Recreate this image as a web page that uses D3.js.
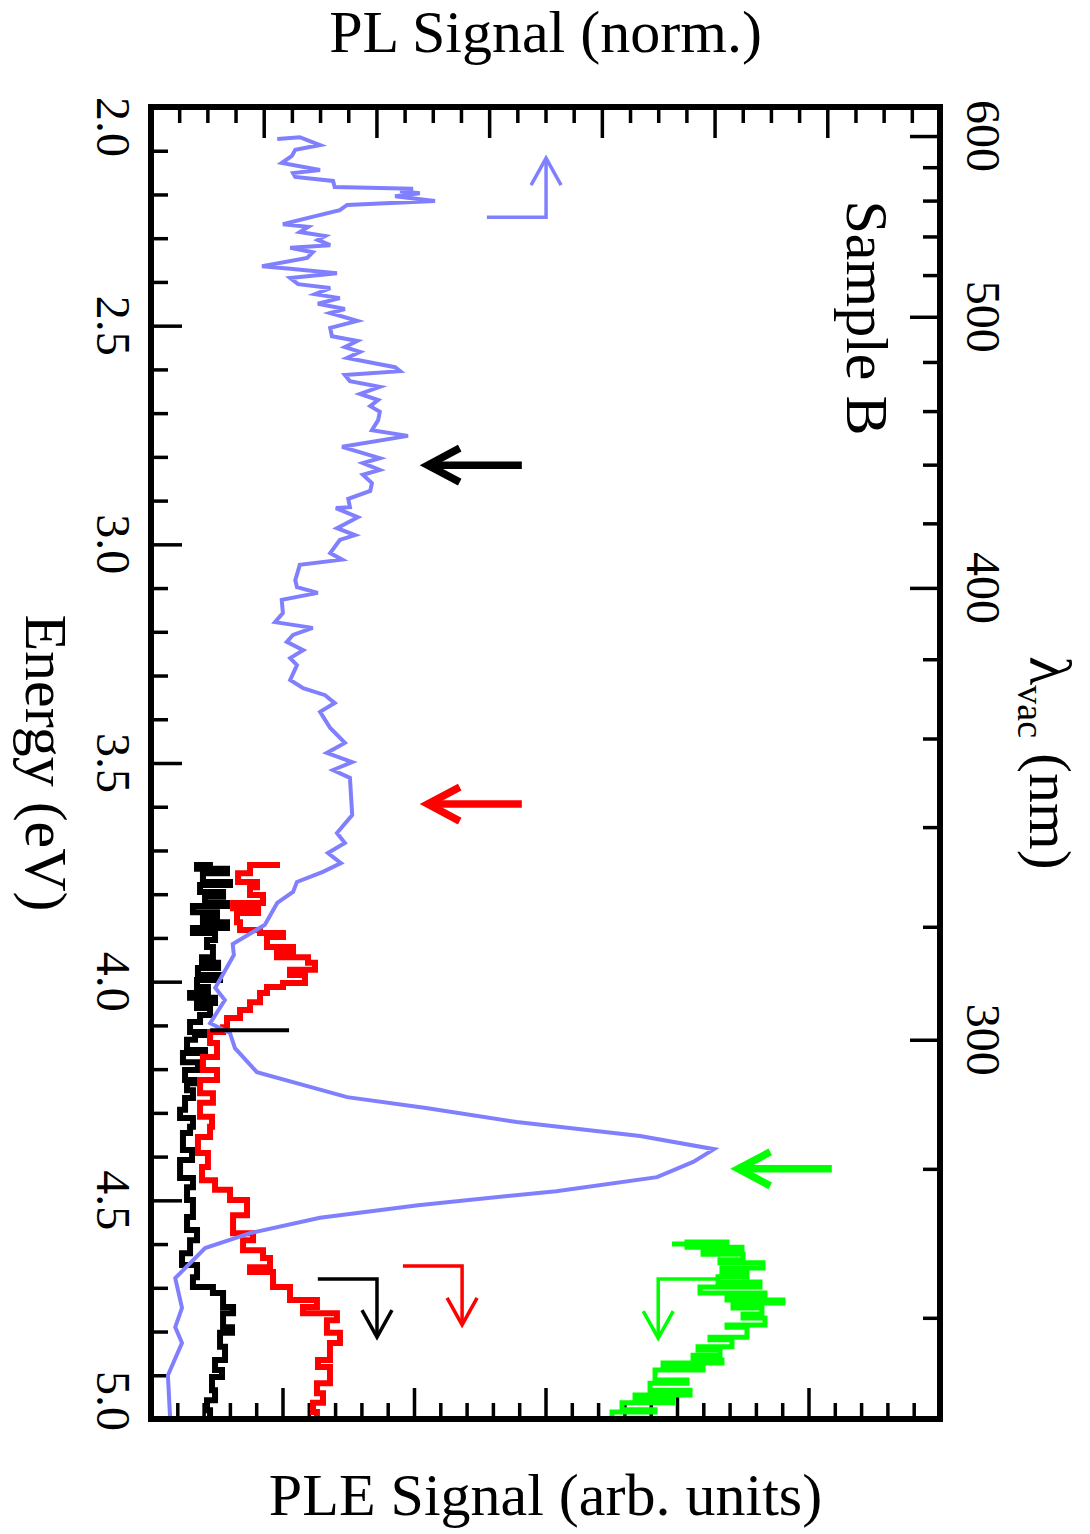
<!DOCTYPE html>
<html>

<head>
    <meta charset="utf-8">
    <script src="https://d3js.org/d3.v7.min.js"></script>
    <title>PL / PLE spectra - Sample B</title>
    <style>
        body {
            margin: 0;
            background: #fff;
        }

        text {
            font-family: 'Liberation Serif', 'Times New Roman', serif;
            fill: #000;
        }
    </style>
</head>

<body>
    <div id="chart"></div>

    <script>
        // PL spectrum (blue), energy in eV, signal normalised to the peak
        const plEnergy = [2.073, 2.069, 2.087, 2.098, 2.112, 2.128, 2.144, 2.151, 2.160, 2.169,
            2.183, 2.187, 2.192, 2.197, 2.204, 2.215, 2.224, 2.236, 2.254, 2.268,
            2.274, 2.286, 2.295, 2.304, 2.316, 2.322, 2.332, 2.345, 2.364, 2.370,
            2.380, 2.391, 2.405, 2.414, 2.428, 2.437, 2.450, 2.462, 2.471, 2.489,
            2.505, 2.524, 2.535, 2.549, 2.560, 2.574, 2.595, 2.604, 2.613, 2.627,
            2.640, 2.656, 2.670, 2.684, 2.697, 2.716, 2.739, 2.752, 2.777, 2.803,
            2.814, 2.830, 2.841, 2.860, 2.878, 2.896, 2.915, 2.917, 2.938, 2.963,
            2.979, 2.990, 3.020, 3.035, 3.047, 3.082, 3.098, 3.111, 3.127, 3.157,
            3.178, 3.191, 3.207, 3.223, 3.242, 3.260, 3.276, 3.310, 3.329, 3.345,
            3.363, 3.383, 3.420, 3.454, 3.477, 3.498, 3.516, 3.534, 3.619, 3.660,
            3.683, 3.706, 3.729, 3.749, 3.772, 3.795, 3.820, 3.870, 3.914, 3.939,
            3.996, 4.014, 4.042, 4.095, 4.117, 4.152, 4.207, 4.264, 4.289, 4.321,
            4.353, 4.383, 4.412, 4.447, 4.479, 4.511, 4.540, 4.575, 4.609, 4.678,
            4.746, 4.790, 4.826, 4.900, 5.000];
        const plSignal = [0.224, 0.264, 0.300, 0.256, 0.250, 0.232, 0.300, 0.252, 0.256, 0.323,
            0.326, 0.465, 0.442, 0.477, 0.433, 0.504, 0.348, 0.335, 0.277, 0.234,
            0.279, 0.264, 0.309, 0.296, 0.318, 0.247, 0.287, 0.277, 0.197, 0.247,
            0.330, 0.247, 0.261, 0.318, 0.291, 0.335, 0.296, 0.344, 0.318, 0.366,
            0.318, 0.321, 0.366, 0.344, 0.371, 0.348, 0.433, 0.442, 0.344, 0.353,
            0.406, 0.371, 0.403, 0.389, 0.406, 0.403, 0.392, 0.456, 0.339, 0.406,
            0.376, 0.406, 0.376, 0.392, 0.389, 0.350, 0.353, 0.328, 0.367, 0.330,
            0.362, 0.335, 0.318, 0.339, 0.264, 0.256, 0.259, 0.296, 0.232, 0.234,
            0.220, 0.287, 0.252, 0.241, 0.270, 0.247, 0.259, 0.247, 0.270, 0.309,
            0.326, 0.300, 0.318, 0.344, 0.312, 0.357, 0.323, 0.353, 0.357, 0.330,
            0.344, 0.314, 0.337, 0.305, 0.259, 0.252, 0.224, 0.202, 0.145, 0.147,
            0.122, 0.114, 0.131, 0.105, 0.140, 0.149, 0.188, 0.348, 0.488, 0.649,
            0.868, 0.999, 0.962, 0.898, 0.719, 0.474, 0.300, 0.176, 0.096, 0.043,
            0.055, 0.043, 0.055, 0.030, 0.034];

        // PLE spectra (arb. units) : red, black, green
        const redEnergy = [3.733, 3.752, 3.772, 3.784, 3.802, 3.820, 3.832, 3.843, 3.864, 3.882,
            3.889, 3.898, 3.921, 3.932, 3.944, 3.957, 3.973, 3.985, 4.003, 4.012,
            4.026, 4.047, 4.065, 4.083, 4.104, 4.115, 4.140, 4.172, 4.202, 4.225,
            4.255, 4.277, 4.309, 4.332, 4.355, 4.392, 4.424, 4.454, 4.476, 4.499,
            4.534, 4.575, 4.591, 4.614, 4.632, 4.653, 4.664, 4.698, 4.728, 4.744,
            4.758, 4.774, 4.803, 4.826, 4.865, 4.881, 4.918, 4.941, 4.963, 4.984, 5.000];
        const redSignal = [0.981, 0.753, 0.662, 0.806, 0.753, 0.852, 0.624, 0.814, 0.654, 0.677,
            0.829, 1.004, 0.882, 1.080, 0.958, 1.194, 1.247, 1.057, 1.171, 1.004,
            0.882, 0.829, 0.753, 0.677, 0.578, 0.548, 0.449, 0.502, 0.395, 0.502,
            0.373, 0.471, 0.373, 0.464, 0.449, 0.357, 0.433, 0.388, 0.487, 0.601,
            0.730, 0.624, 0.776, 0.700, 0.852, 0.905, 0.753, 0.928, 1.057, 1.262,
            1.156, 1.414, 1.338, 1.437, 1.361, 1.270, 1.361, 1.262, 1.308, 1.232, 1.262];

        const blackEnergy = [3.733, 3.742, 3.752, 3.772, 3.779, 3.795, 3.806, 3.820, 3.827, 3.841,
            3.852, 3.864, 3.877, 3.889, 3.905, 3.921, 3.944, 3.957, 3.969, 3.985,
            3.996, 4.012, 4.026, 4.037, 4.049, 4.060, 4.076, 4.092, 4.115, 4.122,
            4.133, 4.156, 4.163, 4.184, 4.202, 4.225, 4.232, 4.248, 4.266, 4.293,
            4.312, 4.332, 4.346, 4.385, 4.408, 4.449, 4.470, 4.499, 4.538, 4.568,
            4.591, 4.621, 4.648, 4.676, 4.698, 4.712, 4.744, 4.758, 4.790, 4.803,
            4.835, 4.865, 4.888, 4.904, 4.934, 4.957, 4.980, 5.000];
        const blackSignal = [0.471, 0.350, 0.578, 0.395, 0.601, 0.373, 0.548, 0.411, 0.578, 0.319,
            0.502, 0.395, 0.578, 0.319, 0.487, 0.426, 0.471, 0.388, 0.510, 0.357,
            0.525, 0.350, 0.433, 0.297, 0.487, 0.350, 0.449, 0.373, 0.297, 0.449,
            0.335, 0.274, 0.411, 0.243, 0.357, 0.259, 0.373, 0.274, 0.319, 0.259,
            0.221, 0.319, 0.297, 0.243, 0.312, 0.221, 0.319, 0.274, 0.319, 0.274,
            0.350, 0.297, 0.236, 0.350, 0.319, 0.471, 0.548, 0.624, 0.548, 0.616,
            0.525, 0.563, 0.487, 0.540, 0.464, 0.487, 0.426, 0.449];

        const greenEnergy = [4.600, 4.595, 4.607, 4.616, 4.623, 4.636, 4.643, 4.655, 4.664, 4.675,
            4.687, 4.698, 4.712, 4.721, 4.728, 4.735, 4.746, 4.760, 4.769, 4.785,
            4.790, 4.813, 4.819, 4.835, 4.842, 4.854, 4.865, 4.872, 4.881, 4.888,
            4.911, 4.918, 4.934, 4.945, 4.952, 4.963, 4.979, 4.984, 4.998, 5.000];
        const greenSignal = [3.962, 4.380, 4.076, 4.494, 4.198, 4.502, 4.327, 4.654, 4.342, 4.532,
            4.312, 4.631, 4.175, 4.669, 4.380, 4.806, 4.426, 4.646, 4.502, 4.669,
            4.380, 4.532, 4.251, 4.418, 4.160, 4.327, 4.122, 4.342, 3.894, 4.198,
            3.833, 4.076, 3.795, 4.099, 3.681, 3.970, 3.582, 3.833, 3.506, 3.741];

        // tick labels
        const energyTicks = [2.0, 2.5, 3.0, 3.5, 4.0, 4.5, 5.0];
        const wavelengthTicks = [600, 500, 400, 300];

        // arrows, in energy (eV) and PL units
        const straightArrows = [
            { color: "#000000", energy: 2.819, from: 0.658, to: 0.491 },
            { color: "#ff0000", energy: 3.594, from: 0.658, to: 0.491 },
            { color: "#00ff00", energy: 4.428, from: 1.208, to: 1.042 }
        ];
        const bentArrows = [
            { color: "#8080ff", energy: 2.252, from: 0.596, to: 0.701, tip: 2.117 },
            { color: "#000000", energy: 4.680, from: 0.296, to: 0.401, tip: 4.813 },
            { color: "#ff0000", energy: 4.650, from: 0.447, to: 0.552, tip: 4.785 },
            { color: "#00ff00", energy: 4.680, from: 1.004, to: 0.900, tip: 4.815 }
        ];
        const markerLine = { energy: 4.111, from: 0.105, to: 0.245 };

        const hc = 1239.84; // eV nm

        // plot frame (window.top is read-only, so keep these names local)
        const W = 1090, H = 1534,
            fx0 = 151, fx1 = 940, fy0 = 107, fy1 = 1419;

        const svg = d3.select("#chart").append("svg")
            .attr("width", W)
            .attr("height", H);

        // energy runs down the page, signals run to the right
        const y = d3.scaleLinear().domain([2, 5]).range([fy0, fy1]);
        const xPL = d3.scaleLinear().domain([0, 1.4]).range([fx0, fx1]);
        const xPLE = d3.scaleLinear().domain([0, 6]).range([fx0, fx1]);

        function tickAxis(axis, values, size, transform) {
            const g = svg.append("g")
                .attr("transform", transform)
                .call(axis.tickValues(values).tickSize(size).tickFormat(""));
            g.select(".domain").remove();
            g.selectAll("line").attr("stroke", "#000").attr("stroke-width", 3.5);
        }

        const inner = v => v > 2.001 && v < 4.999;
        // left: energy
        tickAxis(d3.axisRight(y), [2.5, 3.0, 3.5, 4.0, 4.5], 31, `translate(${fx0},0)`);
        tickAxis(d3.axisRight(y), d3.range(21, 50).filter(d => d % 5).map(d => d / 10), 17, `translate(${fx0},0)`);
        // right: wavelength
        tickAxis(d3.axisLeft(y), wavelengthTicks.map(l => hc / l), 30, `translate(${fx1},0)`);
        tickAxis(d3.axisLeft(y), d3.range(260, 621, 20).filter(l => l % 100).map(l => hc / l).filter(inner), 17, `translate(${fx1},0)`);
        // top: PL
        tickAxis(d3.axisBottom(xPL), [0.2, 0.4, 0.6, 0.8, 1.0, 1.2], 31, `translate(0,${fy0})`);
        tickAxis(d3.axisBottom(xPL), d3.range(1, 28).filter(d => d % 4).map(d => d * 0.05), 16, `translate(0,${fy0})`);
        // bottom: PLE
        tickAxis(d3.axisTop(xPLE), [1, 2, 3, 4, 5], 31, `translate(0,${fy1})`);
        tickAxis(d3.axisTop(xPLE), d3.range(1, 30).filter(d => d % 5).map(d => d * 0.2), 16, `translate(0,${fy1})`);

        // spectra
        function drawSeries(energy, signal, xs, color, w, curve) {
            const pts = energy.map((e, i) => [xs(signal[i]), y(e)]);
            svg.append("path")
                .datum(pts)
                .attr("d", d3.line().curve(curve))
                .attr("fill", "none")
                .attr("stroke", color)
                .attr("stroke-width", w)
                .attr("stroke-linejoin", "miter");
        }
        // the PLE traces are dense, so they read as horizontal steps
        drawSeries(blackEnergy, blackSignal, xPLE, "#000000", 6, d3.curveStepAfter);
        drawSeries(redEnergy, redSignal, xPLE, "#ff0000", 6, d3.curveStepAfter);
        drawSeries(greenEnergy, greenSignal, xPLE, "#00ff00", 5, d3.curveStepAfter);
        drawSeries(plEnergy, plSignal, xPL, "#8080ff", 4, d3.curveLinear);

        // marker at the PL dip
        svg.append("line")
            .attr("x1", xPL(markerLine.from)).attr("x2", xPL(markerLine.to))
            .attr("y1", y(markerLine.energy)).attr("y2", y(markerLine.energy))
            .attr("stroke", "#000").attr("stroke-width", 4);

        // straight arrows pointing left
        straightArrows.forEach(a => {
            const yy = y(a.energy), tip = xPL(a.to);
            svg.append("line")
                .attr("x1", xPL(a.from)).attr("x2", tip + 4)
                .attr("y1", yy).attr("y2", yy)
                .attr("stroke", a.color).attr("stroke-width", 7.5);
            svg.append("path")
                .attr("d", `M${tip + 32},${yy - 17}L${tip},${yy}L${tip + 32},${yy + 17}`)
                .attr("fill", "none").attr("stroke", a.color)
                .attr("stroke-width", 7.5).attr("stroke-linejoin", "miter");
        });

        // bent arrows
        bentArrows.forEach(a => {
            const yy = y(a.energy), xx = xPL(a.to), ty = y(a.tip);
            const dir = ty < yy ? 1 : -1;
            svg.append("path")
                .attr("d", `M${xPL(a.from)},${yy}H${xx}V${ty}`)
                .attr("fill", "none").attr("stroke", a.color).attr("stroke-width", 3.5);
            svg.append("path")
                .attr("d", `M${xx - 15},${ty + dir * 27}L${xx},${ty}L${xx + 15},${ty + dir * 27}`)
                .attr("fill", "none").attr("stroke", a.color).attr("stroke-width", 3.5);
        });

        // frame
        svg.append("rect")
            .attr("x", fx0).attr("y", fy0)
            .attr("width", fx1 - fx0).attr("height", fy1 - fy0)
            .attr("fill", "none").attr("stroke", "#000").attr("stroke-width", 6);

        // tick labels, rotated like the rest of the figure
        svg.selectAll(".elabel")
            .data(energyTicks)
            .enter().append("text")
            .attr("class", "elabel")
            .attr("transform", d => {
                const shift = d === 2.0 ? 20 : d === 5.0 ? -18 : 0;
                return `translate(97,${y(d) + shift}) rotate(90)`;
            })
            .attr("text-anchor", "middle")
            .style("font-size", "48px")
            .text(d => d.toFixed(1));

        svg.selectAll(".wlabel")
            .data(wavelengthTicks)
            .enter().append("text")
            .attr("class", "wlabel")
            .attr("transform", d => `translate(967,${y(hc / d)}) rotate(90)`)
            .attr("text-anchor", "middle")
            .style("font-size", "48px")
            .text(d => d);

        // titles
        svg.append("text")
            .attr("x", (fx0 + fx1) / 2).attr("y", 52)
            .attr("text-anchor", "middle").style("font-size", "60px")
            .text("PL Signal (norm.)");

        svg.append("text")
            .attr("x", (fx0 + fx1) / 2).attr("y", 1515)
            .attr("text-anchor", "middle").style("font-size", "60px")
            .text("PLE Signal (arb. units)");

        svg.append("text")
            .attr("transform", `translate(26,${(fy0 + fy1) / 2}) rotate(90)`)
            .attr("text-anchor", "middle").style("font-size", "60px")
            .text("Energy (eV)");

        const lam = svg.append("text")
            .attr("transform", `translate(1030,${(fy0 + fy1) / 2}) rotate(90)`)
            .attr("text-anchor", "middle").style("font-size", "60px");
        lam.append("tspan").text("λ");
        lam.append("tspan").attr("dy", 12).style("font-size", "38px").text("vac");
        lam.append("tspan").attr("dy", -12).text(" (nm)");

        svg.append("text")
            .attr("transform", "translate(847,318) rotate(90)")
            .attr("text-anchor", "middle").style("font-size", "60px")
            .text("Sample B");
    </script>
</body>

</html>
